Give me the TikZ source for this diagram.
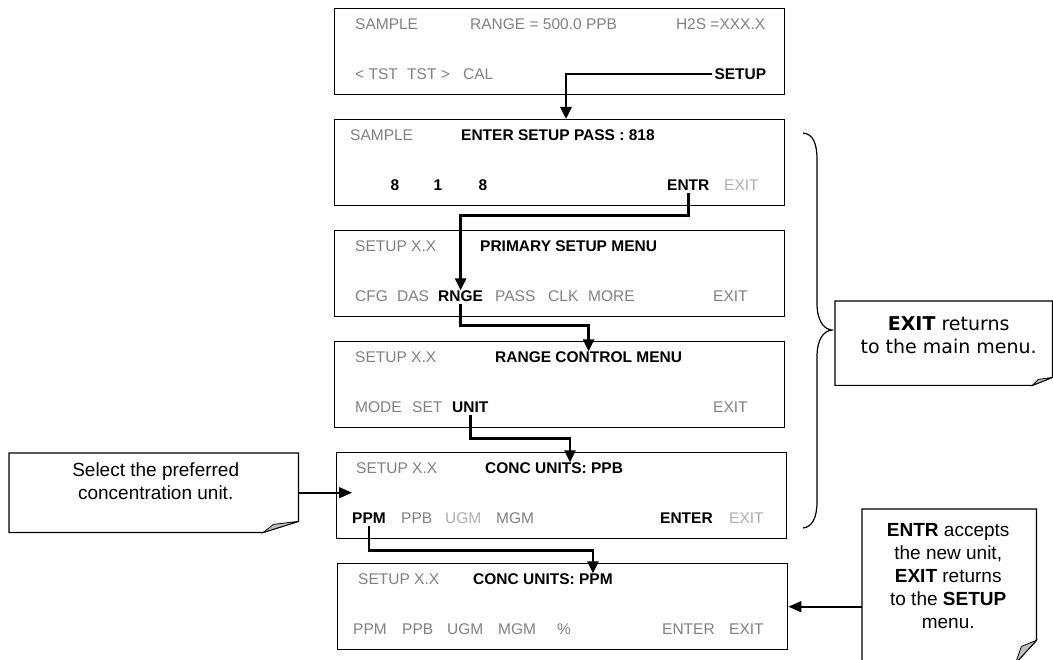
\documentclass[tikz,border=0pt]{standalone}
\usepackage{fontspec}
\setmainfont{Liberation Sans}
\newfontfamily\verdfont{DejaVu Sans}
\usetikzlibrary{arrows.meta, positioning, calc}
\definecolor{keygray}{gray}{0.5}
\definecolor{keyfaint}{gray}{0.68}
\definecolor{curlgray}{gray}{0.75}

\begin{document}
\begin{tikzpicture}[
    x=1pt, y=-1pt,
    node distance=23.6pt,
    screen/.style={draw, line width=1.4pt, minimum width=450pt,
                   minimum height=86pt, inner sep=0pt},
    key/.style={inner sep=0pt, anchor=west, keygray,
                font=\fontsize{15.5}{18}\selectfont},
    keyon/.style={key, black, font=\fontsize{15.5}{18}\selectfont\bfseries},
    keyoff/.style={key, keyfaint},
    note/.style={inner sep=0pt},
    notetxt/.style={align=center, inner sep=0pt,
                    font=\fontsize{19}{23}\selectfont},
    flow/.style={-{Triangle[length=12pt, width=11pt]}, line width=2.8pt,
                 shorten <=2pt},
    point/.style={-{Triangle[length=13pt, width=11pt]}, line width=1.6pt},
    fold/.style={draw, line width=1.2pt},
    curl/.style={fill=curlgray, draw, line width=0.8pt},
  ]
  \useasboundingbox (0,0) rectangle (1053,660);

  % Screens
  \node[screen, anchor=north west] (scrA) at (334,8) {};
  \node[screen, below=of scrA] (scrB) {};
  \node[screen, below=of scrB] (scrC) {};
  \node[screen, below=of scrC] (scrD) {};
  \node[screen, below=of scrD, xshift=2pt] (scrE) {};
  \node[screen, below=of scrE, xshift=1pt] (scrF) {};

  % Screen A: main menu
  \node[key] (smpA) at ($(scrA.north west)+(21,16)$) {SAMPLE};
  \node[key] (rngA) at ($(scrA.north west)+(136,16)$) {RANGE = 500.0 PPB};
  \node[key, anchor=east] (hA) at ($(scrA.north east)+(-20,16)$) {H2S =XXX.X};
  \node[key] (tstlA) at ($(scrA.north west)+(21,66)$) {< TST};
  \node[key] (tstrA) at ($(scrA.north west)+(73,66)$) {TST >};
  \node[key] (calA) at ($(scrA.north west)+(129,66)$) {CAL};
  \node[keyon, anchor=east] (setA) at ($(scrA.north east)+(-19,66)$) {SETUP};

  % Screen B: password
  \node[key] (smpB) at ($(scrB.north west)+(16,16)$) {SAMPLE};
  \node[keyon] (passB) at ($(scrB.north west)+(127,16)$) {ENTER SETUP PASS : 818};
  \node[keyon, anchor=center] (d1B) at ($(scrB.north west)+(61,66)$) {8};
  \node[keyon, anchor=center] (d2B) at ($(scrB.north west)+(104,66)$) {1};
  \node[keyon, anchor=center] (d3B) at ($(scrB.north west)+(149,66)$) {8};
  \node[keyon] (entrB) at ($(scrB.north west)+(333,66)$) {ENTR};
  \node[keyoff] (exitB) at ($(scrB.north west)+(390,66)$) {EXIT};

  % Screen C: primary setup menu
  \node[key] (verC) at ($(scrC.north west)+(21,16)$) {SETUP X.X};
  \node[keyon] (menuC) at ($(scrC.north west)+(146,16)$) {PRIMARY SETUP MENU};
  \node[key] (cfgC) at ($(scrC.north west)+(21,66)$) {CFG};
  \node[key] (dasC) at ($(scrC.north west)+(63,66)$) {DAS};
  \node[keyon] (rngeC) at ($(scrC.north west)+(104,66)$) {RNGE};
  \node[key] (passC) at ($(scrC.north west)+(161,66)$) {PASS};
  \node[key] (clkC) at ($(scrC.north west)+(214,66)$) {CLK};
  \node[key] (moreC) at ($(scrC.north west)+(254,66)$) {MORE};
  \node[key] (exitC) at ($(scrC.north west)+(379,66)$) {EXIT};

  % Screen D: range control menu
  \node[key] (verD) at ($(scrD.north west)+(21,16)$) {SETUP X.X};
  \node[keyon] (ctrlD) at ($(scrD.north west)+(161,16)$) {RANGE CONTROL MENU};
  \node[key] (modeD) at ($(scrD.north west)+(21,66)$) {MODE};
  \node[key] (setD) at ($(scrD.north west)+(78,66)$) {SET};
  \node[keyon] (unitD) at ($(scrD.north west)+(118,66)$) {UNIT};
  \node[key] (exitD) at ($(scrD.north west)+(379,66)$) {EXIT};

  % Screen E: units, PPB
  \node[key] (verE) at ($(scrE.north west)+(20,16)$) {SETUP X.X};
  \node[keyon] (concE) at ($(scrE.north west)+(149,16)$) {CONC UNITS: PPB};
  \node[keyon] (ppmE) at ($(scrE.north west)+(16,66)$) {PPM};
  \node[key] (ppbE) at ($(scrE.north west)+(65,66)$) {PPB};
  \node[keyoff] (ugmE) at ($(scrE.north west)+(109,66)$) {UGM};
  \node[key] (mgmE) at ($(scrE.north west)+(160,66)$) {MGM};
  \node[keyon] (enterE) at ($(scrE.north west)+(324,66)$) {ENTER};
  \node[keyoff] (exitE) at ($(scrE.north west)+(393,66)$) {EXIT};

  % Screen F: units, PPM
  \node[key] (verF) at ($(scrF.north west)+(21,16)$) {SETUP X.X};
  \node[keyon] (concF) at ($(scrF.north west)+(136,16)$) {CONC UNITS: PPM};
  \node[key] (ppmF) at ($(scrF.north west)+(16,66)$) {PPM};
  \node[key] (ppbF) at ($(scrF.north west)+(65,66)$) {PPB};
  \node[key] (ugmF) at ($(scrF.north west)+(110,66)$) {UGM};
  \node[key] (mgmF) at ($(scrF.north west)+(161,66)$) {MGM};
  \node[key] (pctF) at ($(scrF.north west)+(220,66)$) {\%};
  \node[key] (enterF) at ($(scrF.north west)+(325,66)$) {ENTER};
  \node[key] (exitF) at ($(scrF.north west)+(392,66)$) {EXIT};

  % Key presses
  \draw[flow] (setA.west) -| ($(scrB.north west)+(232,0)$);
  \draw[flow] (entrB.south) -- ++(0,25) -| (rngeC.north);
  \draw[flow] (rngeC.south) -- ++(0,24) -| (ctrlD.north);
  \draw[flow] (unitD.south) -- ++(0,26) -| ($(concE.north west)+(85,0)$);
  \draw[flow] (ppmE.south) -- ++(0,27) -| ($(concF.north west)+(120,0)$);

  % Callouts
  \node[note, minimum width=289pt, minimum height=79pt, anchor=north west]
       (noteL) at (9,453) {};
  \node[notetxt] (noteLtxt) at ($(noteL.center)+(2,-11)$)
       {Select the preferred\\concentration unit.};
  \draw[fold] (noteL.north west) -- (noteL.north east)
       -- ($(noteL.south east)+(0,-11)$) -- ($(noteL.south east)+(-35,0)$)
       -- (noteL.south west) -- cycle;
  \filldraw[curl] ($(noteL.south east)+(-35,0)$) -- ($(noteL.south east)+(-25,-8)$)
       -- ($(noteL.south east)+(0,-11)$) -- cycle;

  \node[note, minimum width=217pt, minimum height=84pt, anchor=north west]
       (noteM) at (835,301) {};
  \node[notetxt, font=\verdfont\fontsize{19}{23}\selectfont] (noteMtxt)
       at ($(noteM.center)+(5,-8)$) {\textbf{EXIT} returns\\to the main menu.};
  \draw[fold] (noteM.north west) -- (noteM.north east)
       -- ($(noteM.south east)+(0,-8)$) -- ($(noteM.south east)+(-20,0)$)
       -- (noteM.south west) -- cycle;
  \filldraw[curl] ($(noteM.south east)+(-20,0)$) -- ($(noteM.south east)+(-14,-6)$)
       -- ($(noteM.south east)+(0,-8)$) -- cycle;

  \node[note, minimum width=174pt, minimum height=154pt, anchor=north west]
       (noteR) at (862,509) {};
  \node[notetxt] (noteRtxt) at ($(noteR.center)+(-1,-10.5)$)
       {\textbf{ENTR} accepts\\the new unit,\\\textbf{EXIT} returns\\
        to the \textbf{SETUP}\\menu.};
  \draw[fold] (noteR.north west) -- (noteR.north east)
       -- ($(noteR.south east)+(0,-23)$) -- ($(noteR.south east)+(-21,0)$)
       -- (noteR.south west) -- cycle;
  \filldraw[curl] ($(noteR.south east)+(-21,0)$) -- ($(noteR.south east)+(-15,-17)$)
       -- ($(noteR.south east)+(0,-23)$) -- cycle;

  \draw[point] (noteL.east) -- (noteL.east -| ppmE.west);
  \draw[point] (noteR.west |- scrF.east) -- (scrF.east);

  % Brace over the EXIT screens
  \draw[line width=1.2pt] (803,133) .. controls (813,134) and (817,143) .. (817,160)
       -- (817,303) .. controls (817,320) and (823,329) .. (832,330)
       .. controls (823,331) and (817,340) .. (817,357)
       -- (817,502) .. controls (817,518) and (812,527) .. (803,528);
\end{tikzpicture}
\end{document}
